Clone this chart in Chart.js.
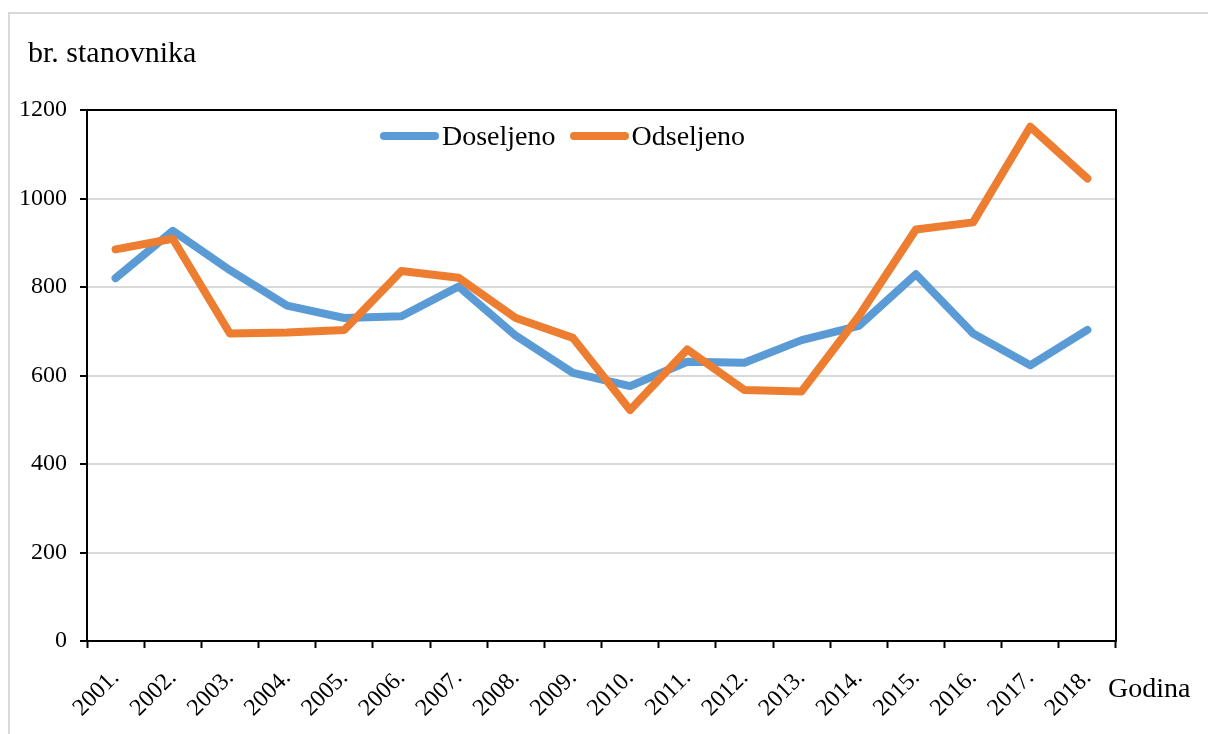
<!DOCTYPE html>
<html lang="hr">
<head>
    <meta charset="UTF-8">
    <title>Doseljeno / Odseljeno</title>
    <script src="https://cdn.jsdelivr.net/npm/chart.js@4/dist/chart.umd.min.js"></script>
    <style>
        body { margin: 0; background: #fff; overflow: hidden; font-family: "Liberation Serif", serif; }
        #frame { position: absolute; left: 8px; top: 12px; width: 1300px; height: 800px; border: 2px solid #d9d9d9; }
        #chartCanvas { position: absolute; left: 0; top: 0; }
        #legend { position: absolute; left: 380px; top: 120px; display: flex; align-items: center; font-size: 28px; line-height: 32px; color: #000; }
        #legend .sample { display: inline-block; width: 59px; height: 8px; border-radius: 4px; margin-right: 3px; }
        #legend .item { display: flex; align-items: center; margin-right: 14px; }
    </style>
</head>
<body>

<div id="frame"></div>
<canvas id="chartCanvas" width="1208" height="734"></canvas>
<div id="legend"></div>

<script>
    const years = ['2001.', '2002.', '2003.', '2004.', '2005.', '2006.', '2007.', '2008.', '2009.',
                   '2010.', '2011.', '2012.', '2013.', '2014.', '2015.', '2016.', '2017.', '2018.'];
    const doseljeno = [820, 927, 838, 758, 730, 734, 801, 690, 606, 576, 631, 629, 680, 712, 829, 695, 623, 703];
    const odseljeno = [885, 909, 695, 697, 703, 836, 821, 730, 685, 522, 659, 567, 564, 734, 930, 946, 1162, 1045];

    const yTitle = 'br. stanovnika';
    const xTitle = 'Godina';

    const serif = '"Liberation Serif", "Times New Roman", serif';

    // top + right edges of the plot box, axis captions
    const extras = {
        id: 'extras',
        afterDraw(chart) {
            const ctx = chart.ctx;
            const a = chart.chartArea;
            ctx.save();
            ctx.strokeStyle = '#000';
            ctx.lineWidth = 2;
            ctx.beginPath();
            ctx.moveTo(a.left, a.top);
            ctx.lineTo(a.right, a.top);
            ctx.lineTo(a.right, a.bottom);
            ctx.stroke();
            ctx.fillStyle = '#000';
            ctx.textBaseline = 'alphabetic';
            ctx.font = '28px ' + serif;
            ctx.fillText(xTitle, a.right - 8, a.bottom + 56);
            ctx.font = '30px ' + serif;
            ctx.fillText(yTitle, 28, a.top - 48);
            ctx.restore();
        }
    };

    const ctx = document.getElementById('chartCanvas').getContext('2d');
    const chart = new Chart(ctx, {
        type: 'line',
        data: {
            labels: years,
            datasets: [
                {
                    label: 'Doseljeno',
                    data: doseljeno,
                    borderColor: '#5B9BD5',
                    backgroundColor: '#5B9BD5',
                    borderWidth: 8,
                    borderCapStyle: 'round',
                    borderJoinStyle: 'round',
                    pointRadius: 0,
                    tension: 0,
                    order: 2
                },
                {
                    label: 'Odseljeno',
                    data: odseljeno,
                    borderColor: '#ED7D31',
                    backgroundColor: '#ED7D31',
                    borderWidth: 8,
                    borderCapStyle: 'round',
                    borderJoinStyle: 'round',
                    pointRadius: 0,
                    tension: 0,
                    order: 1
                }
            ]
        },
        options: {
            responsive: false,
            animation: false,
            devicePixelRatio: 1,
            layout: { padding: { left: 16, right: 92, top: 110, bottom: 0 } },
            plugins: {
                legend: { display: false },
                tooltip: { enabled: false },
                title: { display: false }
            },
            scales: {
                x: {
                    offset: true,
                    grid: { offset: true, drawOnChartArea: false, tickLength: 7, tickWidth: 2, tickColor: '#000' },
                    border: { color: '#000', width: 2 },
                    ticks: {
                        color: '#000',
                        font: { family: serif, size: 24 },
                        minRotation: 45,
                        maxRotation: 45,
                        autoSkip: false,
                        padding: 16
                    },
                    afterFit: s => { s.height = 93; }
                },
                y: {
                    min: 0,
                    max: 1200,
                    ticks: {
                        stepSize: 200,
                        color: '#000',
                        font: { family: serif, size: 24 },
                        padding: 13,
                        callback: v => String(v)
                    },
                    grid: { color: '#d9d9d9', lineWidth: 2, tickLength: 7, tickWidth: 2, tickColor: '#000' },
                    border: { color: '#000', width: 2 },
                    afterFit: s => { s.width = 71; }
                }
            }
        },
        plugins: [extras]
    });

    // legend sits inside the plot, built from the datasets
    const legendBox = document.getElementById('legend');
    chart.data.datasets.forEach(ds => {
        const item = document.createElement('span');
        item.className = 'item';
        const sample = document.createElement('span');
        sample.className = 'sample';
        sample.style.background = ds.borderColor;
        item.appendChild(sample);
        item.appendChild(document.createTextNode(ds.label));
        legendBox.appendChild(item);
    });
</script>
</body>
</html>
